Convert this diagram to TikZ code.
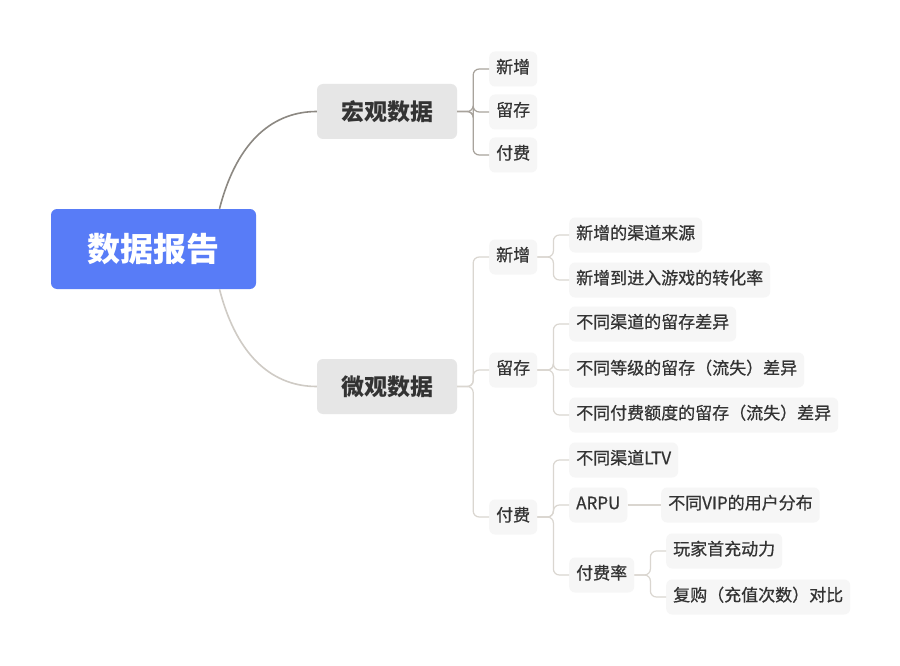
\documentclass[tikz,border=0pt]{standalone}
\usepackage{fontspec}
\setmainfont{Noto Sans CJK SC}
\newfontfamily\cjk{Noto Sans CJK SC}
\newfontfamily\cjkmed[FakeBold=0.7]{Noto Sans CJK SC}
\usetikzlibrary{positioning}
\definecolor{rootblue}{HTML}{587CF7}
\definecolor{lvlone}{HTML}{E6E6E6}
\definecolor{lvlsmall}{HTML}{F6F6F6}
\definecolor{txt}{HTML}{333333}
\definecolor{darkline}{HTML}{8C8882}
\definecolor{lightline}{HTML}{CFCBC5}
\definecolor{midline}{HTML}{A8A39C}
\definecolor{paleline}{HTML}{DAD6D0}
\tikzset{
  x=1pt, y=-1pt,
  rootbox/.style={fill=rootblue, rounded corners=6pt, minimum width=205pt, minimum height=80pt,
    text=white, font=\cjk\bfseries\fontsize{33}{36}\selectfont, inner sep=0pt},
  onebox/.style={fill=lvlone, rounded corners=6pt, minimum width=140pt, minimum height=55pt,
    text=txt, font=\cjk\bfseries\fontsize{23}{26}\selectfont, inner sep=0pt},
  smallbox/.style={fill=lvlsmall, rounded corners=6pt, minimum height=35pt, inner xsep=7pt, inner ysep=0pt,
    text height=0.92em, text depth=0.08em,
    text=txt, font=\cjkmed\fontsize{17}{20}\selectfont},
  rootlink/.style={line width=1.6pt},
  bracket/.style={line width=1.2pt, rounded corners=6pt},
}
\begin{document}
\begin{tikzpicture}
\useasboundingbox (0,0) rectangle (900,666);
\fill[white] (0,0) rectangle (900,666);

% root
\node[rootbox] (root) at (153.5,249) {数据报告};

% level one
\node[onebox] (macro) at (387,111.5) {宏观数据};
\node[onebox] (micro) at (387,386.5) {微观数据};

% macro children
\node[smallbox, anchor=west] (ma) at (489,69) {新增};
\node[smallbox, anchor=west] (mb) at (489,112) {留存};
\node[smallbox, anchor=west] (mc) at (489,155) {付费};

% micro children
\node[smallbox, anchor=west] (na) at (489,257) {新增};
\node[smallbox, anchor=west] (nb) at (489,370) {留存};
\node[smallbox, anchor=west] (nc) at (489,517) {付费};

% 新增 children
\node[smallbox, anchor=west] (na1) at (569,235) {新增的渠道来源};
\node[smallbox, anchor=west] (na2) at (569,280) {新增到进入游戏的转化率};

% 留存 children
\node[smallbox, anchor=west] (nb1) at (569,324) {不同渠道的留存差异};
\node[smallbox, anchor=west] (nb2) at (569,370) {不同等级的留存（流失）差异};
\node[smallbox, anchor=west] (nb3) at (569,415) {不同付费额度的留存（流失）差异};

% 付费 children
\node[smallbox, anchor=west] (nc1) at (569,460) {不同渠道LTV};
\node[smallbox, anchor=west] (nc2) at (569,505) {ARPU};
\node[smallbox, anchor=west] (nc3) at (569,575) {付费率};

\node[smallbox, anchor=west] (vip) at (661,505) {不同VIP的用户分布};
\node[smallbox, anchor=west] (q1) at (666,551) {玩家首充动力};
\node[smallbox, anchor=west] (q2) at (666,597) {复购（充值次数）对比};

% root links
\draw[rootlink, darkline] ([xshift=66pt]root.north) .. controls +(18,-70) and +(-42,0) .. (macro.west);
\draw[rootlink, lightline] ([xshift=66pt]root.south) .. controls +(18,70) and +(-42,0) .. (micro.west);

% macro bracket
\foreach \c in {ma,mb,mc}
  \draw[bracket, midline] (macro.east) -- ++(16,0) |- (\c.west);

% micro bracket
\foreach \c in {na,nb,nc}
  \draw[bracket, paleline] (micro.east) -- ++(16,0) |- (\c.west);

\foreach \c in {na1,na2}
  \draw[bracket, paleline] (na.east) -- ++(16,0) |- (\c.west);
\foreach \c in {nb1,nb2,nb3}
  \draw[bracket, paleline] (nb.east) -- ++(16,0) |- (\c.west);
\foreach \c in {nc1,nc2,nc3}
  \draw[bracket, paleline] (nc.east) -- ++(16,0) |- (\c.west);

\draw[bracket, paleline] (nc2.east) -- (vip.west);
\foreach \c in {q1,q2}
  \draw[bracket, paleline] (nc3.east) -- ++(16,0) |- (\c.west);
\end{tikzpicture}
\end{document}
